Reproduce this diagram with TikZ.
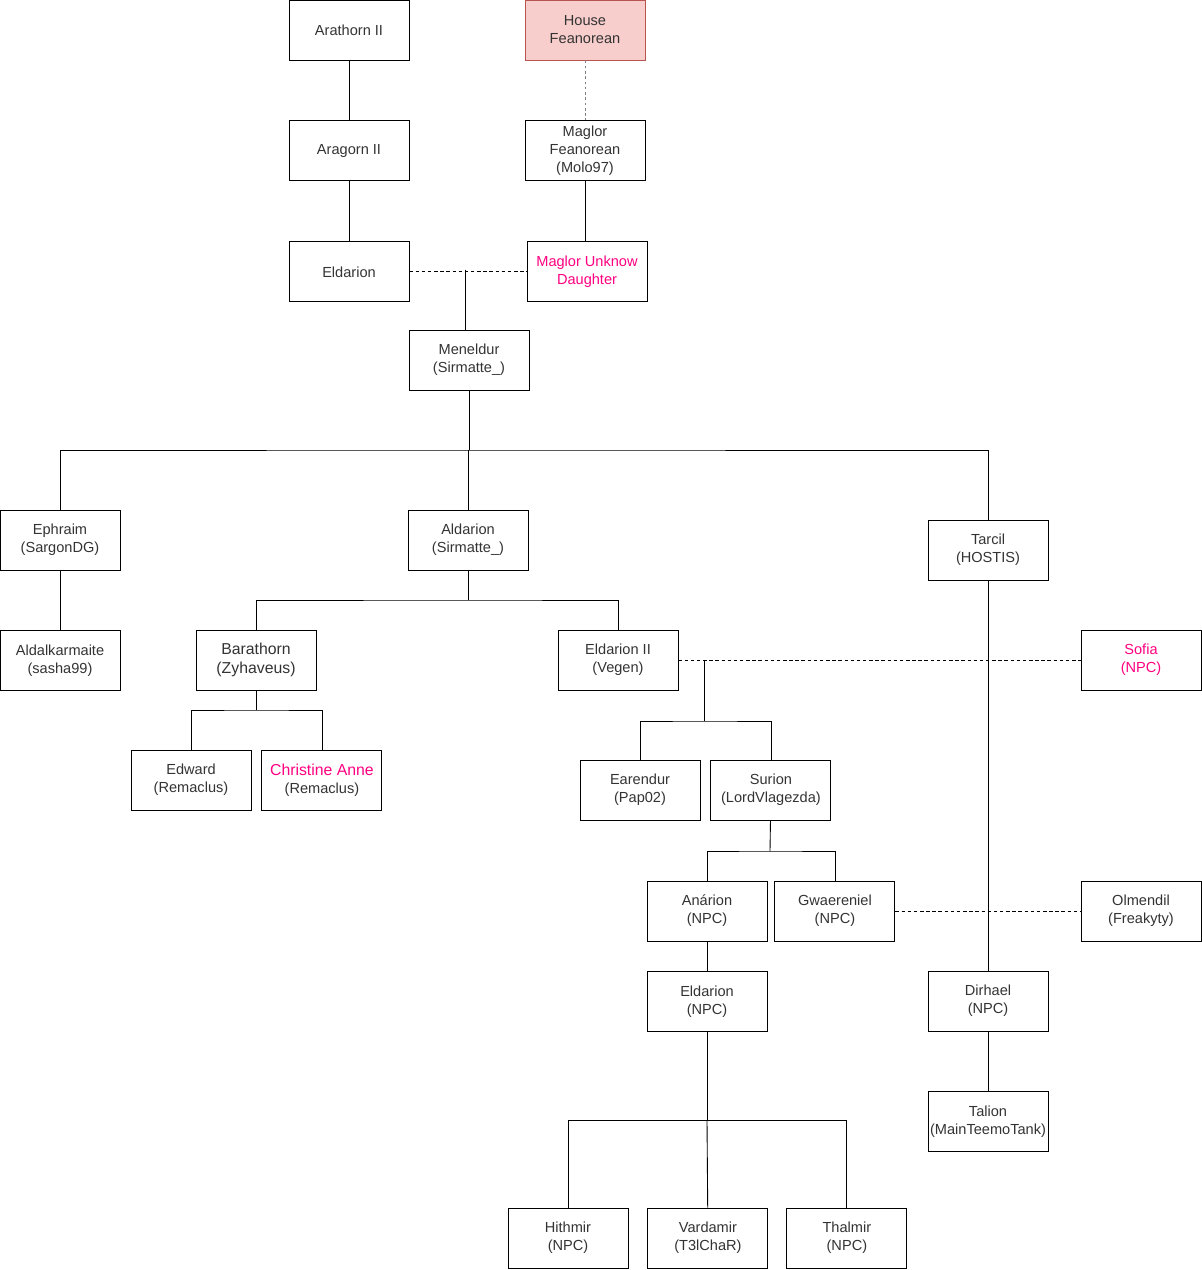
\documentclass[tikz,border=0pt]{standalone}
\usepackage{fontspec}
\setmainfont{Liberation Sans}
\usetikzlibrary{positioning}
\definecolor{housefill}{HTML}{F8CECC}
\definecolor{houseline}{HTML}{B85450}
\definecolor{npcpink}{HTML}{FF0080}
\definecolor{txt}{HTML}{333333}
\newcommand{\bigname}{\fontsize{9}{10.8}\selectfont}

\begin{document}
\begin{tikzpicture}[
    x=0.02cm, y=-0.02cm,
    every node/.style={font=\fontsize{8.3}{10.2}\selectfont, text=txt},
    person/.style={draw, line width=0.55pt, align=center, inner sep=0pt,
                   minimum width=2.4cm, minimum height=1.2cm},
    house/.style ={person, draw=houseline, fill=housefill},
    pink/.style  ={person, text=npcpink},
    big/.style   ={person, font=\bigname},
    link/.style  ={line width=0.5pt},
    partner/.style={line width=0.5pt, dash pattern=on 2pt off 1.5pt},
    lineage/.style={line width=0.5pt, gray, dash pattern=on 1.5pt off 1.5pt},
]
\useasboundingbox (0,0) rectangle (1202,1270);
\node[person] (arathorn) at (349,30) {Arathorn II};
\node[person, below=1.2cm of arathorn] (aragorn)  {Aragorn II};
\node[person, below=1.2cm of aragorn]  (eldarion) {Eldarion};
\node[house]  (house) at (585,30) {House\\Feanorean};
\node[person, below=1.2cm of house]  (maglor) {Maglor\\Feanorean\\(Molo97)};
\node[pink,   below=1.2cm of maglor, xshift=0.04cm] (daughter) {Maglor Unknow\\Daughter};
\node[person] (meneldur) at (469,360) {Meneldur\\(Sirmatte\_)};
\node[person] (ephraim)  at (60,540)  {Ephraim\\(SargonDG)};
\node[person, below=1.2cm of ephraim] (aldalkarmaite) {Aldalkarmaite\\(sasha99)};
\node[person] (aldarion) at (468,540) {Aldarion\\(Sirmatte\_)};
\node[person] (tarcil)   at (988,550) {Tarcil\\(HOSTIS)};
\node[big]    (barathorn) at (256,660) {Barathorn\\(Zyhaveus)};
\node[person] (edward)    at (191,780) {Edward\\(Remaclus)};
\node[person, right=0.2cm of edward] (christine)
        {\textcolor{npcpink}{\bigname Christine Anne}\\(Remaclus)};
\node[person] (eldarionii) at (618,660) {Eldarion II\\(Vegen)};
\node[pink]   (sofia)      at (1141,660) {Sofia\\(NPC)};
\node[person] (earendur)   at (640,790) {Earendur\\(Pap02)};
\node[person, right=0.2cm of earendur] (surion) {Surion\\(LordVlagezda)};
\node[person] (anarion)    at (707,911) {Anárion\\(NPC)};
\node[person, right=0.14cm of anarion] (gwaereniel) {Gwaereniel\\(NPC)};
\node[person] (olmendil)   at (1141,911) {Olmendil\\(Freakyty)};
\node[person, below=0.6cm of anarion] (eldarionnpc) {Eldarion\\(NPC)};
\node[person] (dirhael)    at (988,1001) {Dirhael\\(NPC)};
\node[person, below=1.2cm of dirhael] (talion) {Talion\\(MainTeemoTank)};
\node[person] (hithmir)    at (568,1238) {Hithmir\\(NPC)};
\node[person, right=0.38cm of hithmir]  (vardamir) {Vardamir\\(T3lChaR)};
\node[person, right=0.36cm of vardamir] (thalmir)  {Thalmir\\(NPC)};
% branch points of the tree
\coordinate (wed1) at (465,270);
\coordinate (bus1) at (468,450);
\coordinate (bus2) at (468,600);
\coordinate (bus3) at (256,710);
\coordinate (wed2) at (704,660);
\coordinate (bus4) at (704,721);
\coordinate (bus5) at (770,851);
\coordinate (bus6) at (707,1120);
\draw[link]    (arathorn) -- (aragorn);
\draw[link]    (aragorn)  -- (eldarion);
\draw[lineage] (house)    -- (maglor);
\draw[link]    (maglor.south) -- (maglor.south |- daughter.north);
\draw[partner] (eldarion) -- (daughter);
\draw[link]    (wed1) -- (wed1 |- meneldur.north);
\draw[link]    (meneldur.south) -- (meneldur.south |- bus1);
\draw[link]    (ephraim) |- (bus1) -| (tarcil);
\draw[link]    (aldarion) -- (aldarion |- bus1);
\draw[link]    (ephraim)  -- (aldalkarmaite);
\draw[link]    (aldarion) -- (bus2);
\draw[link]    (barathorn) |- (bus2) -| (eldarionii);
\draw[link]    (barathorn) -- (bus3);
\draw[link]    (edward) |- (bus3) -| (christine);
\draw[partner] (eldarionii) -- (sofia);
\draw[link]    (wed2) -- (bus4);
\draw[link]    (earendur) |- (bus4) -| (surion);
\draw[link]    (surion) -- (bus5);
\draw[link]    (anarion) |- (bus5) -| (gwaereniel);
\draw[partner] (gwaereniel) -- (olmendil);
\draw[link]    (anarion) -- (eldarionnpc);
\draw[link]    (eldarionnpc) -- (bus6);
\draw[link]    (hithmir) |- (bus6) -| (thalmir);
\draw[link]    (bus6) -- (vardamir);
\draw[link]    (tarcil)  -- (dirhael);
\draw[link]    (dirhael) -- (talion);
\end{tikzpicture}
\end{document}
